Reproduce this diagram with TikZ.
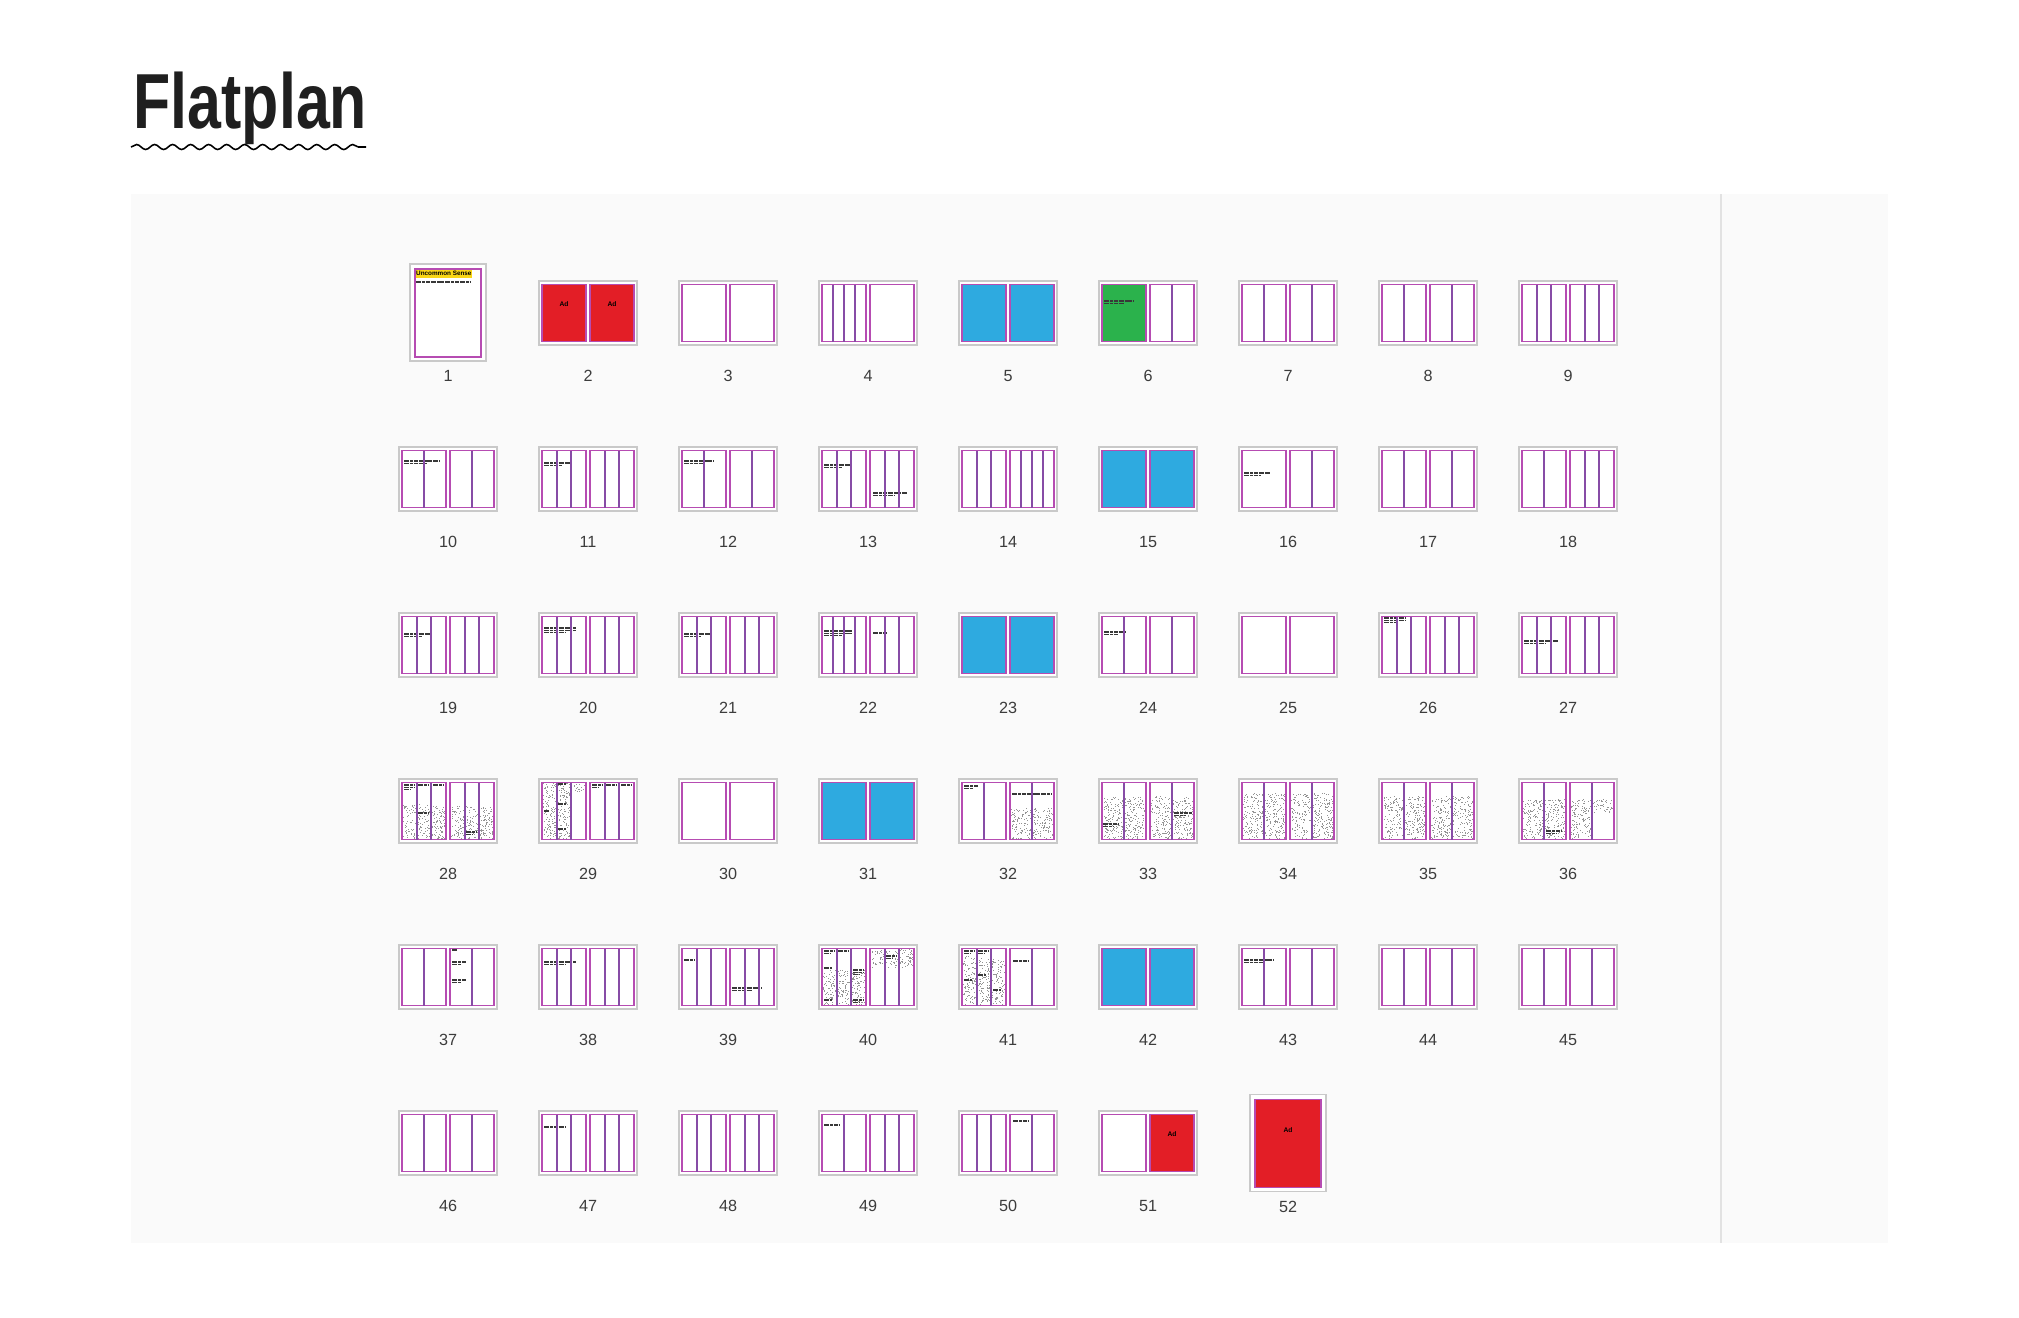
\documentclass[tikz,border=0pt]{standalone}
\usepackage{fontspec}
\setmainfont{Liberation Sans}
\usetikzlibrary{decorations.pathmorphing}
\definecolor{panelGrey}{HTML}{FAFAFA}
\definecolor{panelEdge}{HTML}{E2E2E2}
\definecolor{boxGrey}{HTML}{C9C9C9}
\definecolor{pageEdge}{RGB}{182,76,178}
\definecolor{colRule}{RGB}{135,76,166}
\definecolor{adRed}{RGB}{227,30,38}
\definecolor{spotBlue}{RGB}{46,170,224}
\definecolor{spotGreen}{RGB}{43,178,76}
\definecolor{bandYellow}{RGB}{250,214,22}
\definecolor{numGrey}{HTML}{3C3C3C}

% random grey specks in the box (#1,#2)-(#3,#4)
\newcommand\grain[4]{%
  \pgfmathtruncatemacro\nspeck{(#3-#1)*(#4-#2)/6}
  \foreach \k in {1,...,\nspeck}{
    \pgfmathsetmacro\gx{#1+rnd*(#3-#1)}
    \pgfmathsetmacro\gy{#2+rnd*(#4-#2)}
    \fill[speck] (\gx,\gy) rectangle ++(0.8,0.8);
  }}
% greeked copy: x, y, width, lines
\newcommand\greek[4]{%
  \foreach \j in {1,...,#4}{
    \pgfmathsetmacro\gw{(\j==#4 && #4>1) ? 0.65*#3 : #3}
    \draw[copyline] (#1,{#2+2.3*(\j-1)}) -- ++(\gw,0);
  }}

\def\spreadlist{2/1/1/adRed/adRed, 3/1/1/white/white, 4/4/1/white/white,
  5/1/1/spotBlue/spotBlue, 6/1/2/spotGreen/white, 7/2/2/white/white,
  8/2/2/white/white, 9/3/3/white/white, 10/2/2/white/white,
  11/3/3/white/white, 12/2/2/white/white, 13/3/3/white/white,
  14/3/4/white/white, 15/1/1/spotBlue/spotBlue, 16/1/2/white/white,
  17/2/2/white/white, 18/2/3/white/white, 19/3/3/white/white,
  20/3/3/white/white, 21/3/3/white/white, 22/4/3/white/white,
  23/1/1/spotBlue/spotBlue, 24/2/2/white/white, 25/1/1/white/white,
  26/3/3/white/white, 27/3/3/white/white, 28/3/3/white/white,
  29/3/3/white/white, 30/1/1/white/white, 31/1/1/spotBlue/spotBlue,
  32/2/2/white/white, 33/2/2/white/white, 34/2/2/white/white,
  35/2/2/white/white, 36/2/2/white/white, 37/2/2/white/white,
  38/3/3/white/white, 39/3/3/white/white, 40/3/3/white/white,
  41/3/2/white/white, 42/1/1/spotBlue/spotBlue, 43/2/2/white/white,
  44/2/2/white/white, 45/2/2/white/white, 46/2/2/white/white,
  47/3/3/white/white, 48/3/3/white/white, 49/2/3/white/white,
  50/3/2/white/white, 51/1/1/white/adRed}

\begin{document}
\begin{tikzpicture}[x=0.01cm, y=-0.01cm,
  spreadbox/.style={draw=boxGrey, line width=0.45pt, fill=white},
  pageedge/.style={draw=pageEdge, line width=0.35pt},
  colline/.style={draw=colRule, line width=0.6pt},
  pageno/.style={text=numGrey, font=\fontsize{4.6}{5}\selectfont, inner sep=0pt},
  speck/.style={black!42},
  copyline/.style={black!78, line width=0.36pt, dash pattern=on 1.5pt off 0.25pt on 0.8pt off 0.25pt on 1.1pt off 0.25pt},
  adtext/.style={font=\fontsize{1.9}{2}\selectfont\bfseries, inner sep=0pt}]
 \useasboundingbox (0,0) rectangle (2019,1317);
 \fill[white] (0,0) rectangle (2019,1317);
 \pgfmathsetseed{4711}

 \node[anchor=base west, inner sep=0pt, text=black!88] (title) at (133,128)
   {\fontsize{22.2}{24}\selectfont\bfseries\scalebox{0.78}[1]{Flatplan}};
 \draw[line width=0.45pt, decorate, decoration={snake, segment length=0.18cm, amplitude=0.025cm}]
   (131,147) -- (366,147);

 \fill[panelGrey] (131,194) rectangle (1888,1243);
 \draw[panelEdge, line width=0.5pt] (1721,194) -- (1721,1243);

 % cover and back page
 \coordinate (s1) at (448,312.5);
 \coordinate (s52) at (1288,1143);
 \foreach \pg/\fc in {1/white, 52/adRed}{
   \draw[spreadbox] ([shift={(-38,-48.5)}]s\pg) rectangle ([shift={(38,48.5)}]s\pg);
   \fill[\fc] ([shift={(-33,-43.5)}]s\pg) rectangle ([shift={(33,44.5)}]s\pg);
   \node[pageno] (n\pg) at ([shift={(0,63.5)}]s\pg) {\pg};
 }

 % spreads
 \foreach \pg/\nl/\nr/\fl/\fr in \spreadlist {
   \pgfmathtruncatemacro\col{mod(\pg-1,9)}
   \pgfmathtruncatemacro\row{div(\pg-1,9)}
   \coordinate (s\pg) at ({448+140*\col},{313+166*\row});
   \draw[spreadbox] ([shift={(-49,-32)}]s\pg) rectangle ([shift={(49,32)}]s\pg);
   \fill[\fl] ([shift={(-46,-28.5)}]s\pg) rectangle ([shift={(-2,28.5)}]s\pg);
   \fill[\fr] ([shift={(2,-28.5)}]s\pg) rectangle ([shift={(46,28.5)}]s\pg);
   \node[pageno] (n\pg) at ([shift={(0,63)}]s\pg) {\pg};
 }

 % cover masthead
 \fill[bandYellow] ([shift={(-33,-43.5)}]s1) rectangle ([shift={(24,-34.5)}]s1);
 \node[anchor=west, inner sep=0pt, font=\fontsize{1.8}{2}\selectfont\bfseries] (mast)
   at ([shift={(-32.5,-39)}]s1) {Uncommon Sense};
 \draw[copyline] (416,282) -- ++(55,0);

 % ads
 \node[adtext] (ad2a) at ([shift={(-24,-8.5)}]s2) {Ad};
 \node[adtext] (ad2b) at ([shift={(24,-8.5)}]s2) {Ad};
 \node[adtext] (ad51) at ([shift={(24,-8.5)}]s51) {Ad};
 \node[adtext] (ad52) at ([shift={(0,-13)}]s52) {Ad};

 % text blocks
 \greek{1104}{301}{30}{2}
 \greek{404}{461}{36}{2}  \greek{544}{463}{28}{2}  \greek{684}{461}{30}{2}
 \greek{824}{465}{28}{2}  \greek{873}{493}{34}{2}  \greek{1244}{473}{26}{2}
 \greek{404}{634}{28}{2}  \greek{544}{628}{32}{3}  \greek{684}{634}{26}{2}
 \greek{824}{631}{28}{3}  \greek{873}{633}{14}{1}  \greek{1104}{632}{22}{2}
 \greek{1384}{618}{22}{3} \greek{1524}{641}{34}{2}
 \greek{452}{950}{6}{1}   \greek{452}{962}{14}{2}  \greek{452}{980}{14}{2}
 \greek{544}{962}{32}{2}  \greek{684}{960}{10}{1}  \greek{732}{988}{30}{2}
 \greek{1244}{960}{30}{2} \greek{1013}{961}{16}{1}
 \greek{544}{1127}{22}{1} \greek{824}{1125}{16}{1} \greek{1013}{1121}{16}{1}

 % grain pages, row 4
 \grain{403}{804}{445}{839} \grain{451}{806}{493}{839}
 \greek{404}{785}{10}{3} \greek{418}{785}{10}{1} \greek{433}{785}{10}{1}
 \greek{418}{813}{10}{1} \greek{466}{832}{10}{2}
 \grain{543}{783}{571}{839} \grain{573}{783}{585}{792}
 \greek{544}{811}{6}{1} \greek{558}{784}{8}{1} \greek{558}{804}{8}{1} \greek{558}{829}{8}{1}
 \greek{592}{785}{10}{2} \greek{606}{785}{10}{1} \greek{621}{785}{10}{1}
 \greek{964}{786}{14}{2} \greek{1012}{794}{40}{1} \grain{1011}{808}{1053}{839}
 \grain{1103}{796}{1145}{839} \grain{1151}{796}{1193}{839}
 \greek{1103}{824}{16}{2} \greek{1174}{813}{18}{2}
 \grain{1243}{793}{1285}{839} \grain{1291}{793}{1333}{839}
 \grain{1383}{796}{1425}{839} \grain{1431}{796}{1473}{839}
 \grain{1523}{799}{1565}{839} \greek{1546}{831}{16}{2}
 \grain{1571}{799}{1591}{839} \grain{1593}{799}{1613}{812}

 % grain pages, row 5
 \grain{823}{970}{865}{1005} \grain{871}{949}{913}{967}
 \greek{824}{951}{10}{2} \greek{824}{968}{8}{1} \greek{838}{951}{10}{1}
 \greek{853}{970}{11}{3} \greek{853}{1000}{10}{2} \greek{824}{1000}{8}{1}
 \greek{886}{956}{10}{2}
 \grain{963}{955}{976}{1005} \grain{978}{958}{1005}{1005}
 \greek{964}{951}{10}{2} \greek{978}{951}{10}{2} \greek{978}{975}{8}{1}
 \greek{964}{980}{8}{1} \greek{993}{990}{8}{1}

 % page edges and column rules
 \foreach \pg in {1,52}{
   \draw[pageedge] ([shift={(-33,-43.5)}]s\pg) rectangle ([shift={(33,44.5)}]s\pg);
 }
 \foreach \pg/\nl/\nr/\fl/\fr in \spreadlist {
   \foreach \px/\nc in {-46/\nl, 2/\nr}{
     \draw[pageedge] ([shift={(\px,-28.5)}]s\pg) rectangle ([shift={({\px+44},28.5)}]s\pg);
     \ifnum\nc>1
       \foreach \c in {2,...,\nc}{
         \draw[colline] ([shift={({\px+44*(\c-1)/\nc},-28.5)}]s\pg) -- ++(0,57);
       }
     \fi
   }
 }
\end{tikzpicture}
\end{document}
